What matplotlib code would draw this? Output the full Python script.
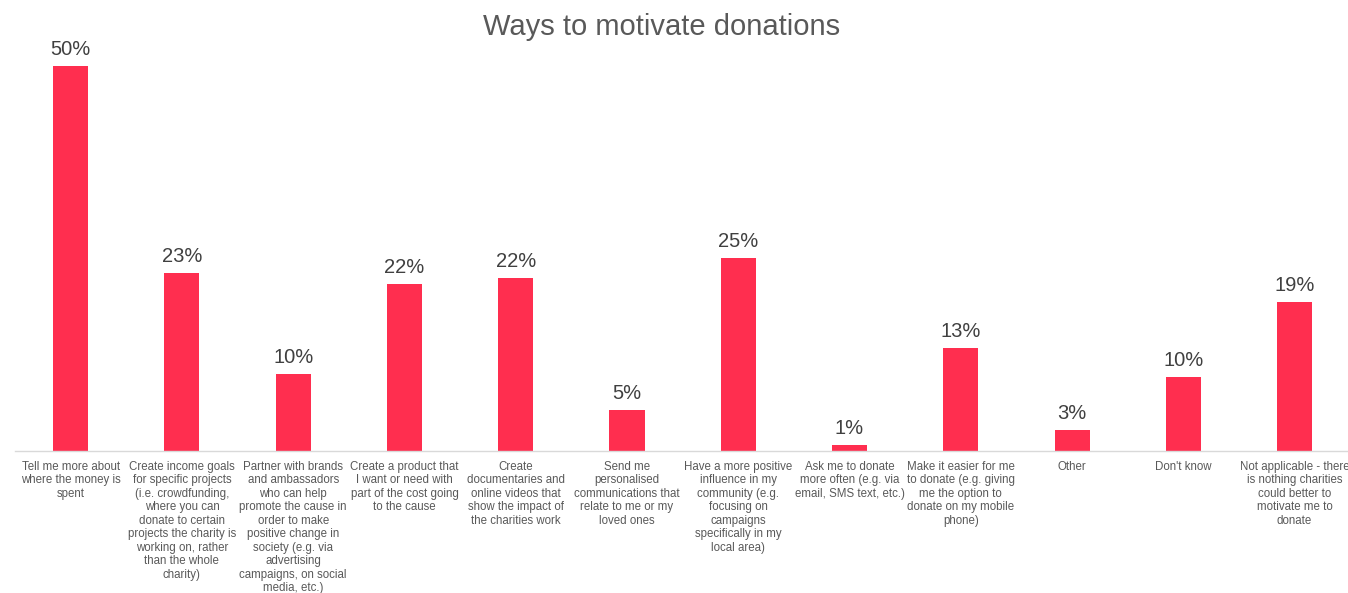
"""Bar chart: ways to motivate donations."""

import matplotlib
matplotlib.use("Agg")
import matplotlib.pyplot as plt

plt.rcParams["font.family"] = ["Liberation Sans", "DejaVu Sans"]

BAR_COLOR = "#FF2E4F"
TEXT_DARK = "#404040"
TEXT_MID = "#595959"
AXIS_COLOR = "#D9D9D9"

categories = [
    "Tell me more about\nwhere the money is\nspent",
    "Create income goals\nfor specific projects\n(i.e. crowdfunding,\nwhere you can\ndonate to certain\nprojects the charity is\nworking on, rather\nthan the whole\ncharity)",
    "Partner with brands\nand ambassadors\nwho can help\npromote the cause in\norder to make\npositive change in\nsociety (e.g. via\nadvertising\ncampaigns, on social\nmedia, etc.)",
    "Create a product that\nI want or need with\npart of the cost going\nto the cause",
    "Create\ndocumentaries and\nonline videos that\nshow the impact of\nthe charities work",
    "Send me\npersonalised\ncommunications that\nrelate to me or my\nloved ones",
    "Have a more positive\ninfluence in my\ncommunity (e.g.\nfocusing on\ncampaigns\nspecifically in my\nlocal area)",
    "Ask me to donate\nmore often (e.g. via\nemail, SMS text, etc.)",
    "Make it easier for me\nto donate (e.g. giving\nme the option to\ndonate on my mobile\nphone)",
    "Other",
    "Don't know",
    "Not applicable - there\nis nothing charities\ncould better to\nmotivate me to\ndonate",
]
share_pct = [49.9, 23.1, 10.0, 21.6, 22.4, 5.3, 25.0, 0.8, 13.4, 2.7, 9.6, 19.3]

W, H = 1348, 593
fig = plt.figure(figsize=(W / 100, H / 100), dpi=100)
fig.patch.set_facecolor("white")

# axes box in pixel terms: baseline at y=451, left edge at x=15
ax = fig.add_axes([15 / W, 142 / H, 1333 / W, 424.6 / H])
ax.set_facecolor("white")

x = range(len(categories))
bars = ax.bar(x, share_pct, width=0.315, color=BAR_COLOR, zorder=2)

for rect, v in zip(bars, share_pct):
    ax.annotate(f"{v:.0f}%",
                xy=(rect.get_x() + rect.get_width() / 2, rect.get_height()),
                xytext=(0, 5), textcoords="offset points",
                ha="center", va="bottom", fontsize=14.5, color=TEXT_DARK)

ax.set_xlim(-0.5, 11.48)
ax.set_ylim(0, 55)
ax.set_xticks(list(x))
ax.set_xticklabels(categories, fontsize=8.3, color=TEXT_MID, linespacing=1.17)
ax.tick_params(axis="x", length=0, pad=7)
ax.set_yticks([])

for side in ("top", "right", "left"):
    ax.spines[side].set_visible(False)
ax.spines["bottom"].set_color(AXIS_COLOR)
ax.spines["bottom"].set_linewidth(1.0)

fig.text(662 / W, 1 - 27 / H, "Ways to motivate donations",
         ha="center", va="center", fontsize=21, color=TEXT_MID)

fig.savefig("out.png", dpi=100, facecolor="white")
